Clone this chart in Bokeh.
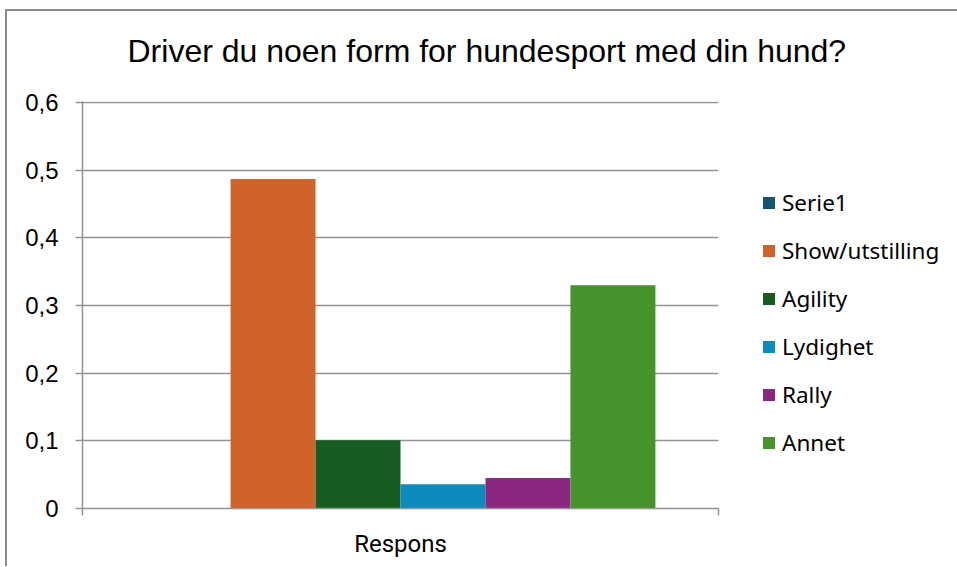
from bokeh.plotting import figure
from bokeh.models import (ColumnDataSource, FactorRange, Range1d, LinearAxis, FixedTicker,
                          CustomJSTickFormatter, Legend, LegendItem)
from bokeh.transform import dodge
from bokeh.embed import file_html
from bokeh.resources import INLINE

# ---------------- data ----------------
categories = ["Respons"]
series = ["Serie1", "Show/utstilling", "Agility", "Lydighet", "Rally", "Annet"]
values = [0.0, 0.487, 0.101, 0.036, 0.045, 0.330]
y_ticks = [0, 0.1, 0.2, 0.3, 0.4, 0.5, 0.6]
title_text = "Driver du noen form for hundesport med din hund?"

# ---------------- style ----------------
colors = ["#135470", "#CF632B", "#175D21", "#0E8BBE", "#8C2780", "#45932A"]
GRAY = "#939393"

p = figure(frame_width=636, frame_height=407,
           x_range=FactorRange(*categories, range_padding=0),
           y_range=Range1d(0, 0.6015),
           output_backend="svg", toolbar_location=None,
           x_axis_type=None, title=title_text,
           min_border_left=82, min_border_right=0,
           min_border_top=101, min_border_bottom=58)
# chart-area frame line (top and left edges) drawn behind the transparent canvas
p.styles = {"box-shadow": "inset 5px 9px 0 0 #ffffff, inset 7px 11px 0 0 #8c8c8c"}
p.outline_line_color = None
p.background_fill_color = "white"
p.border_fill_alpha = 0

p.title.align = "left"
p.title.vertical_align = "top"
p.title.text_font = "Liberation Sans"
p.title.text_font_size = "32px"
p.title.text_font_style = "normal"
p.title.text_color = "#000000"
p.title.standoff = 62
p.title.offset = 45

# data source
data = {"cat": categories}
for i, v in enumerate(values):
    data[f"s{i}"] = [v]
src = ColumnDataSource(data)

bar_w = 0.1336
n = len(series)
items = []
for i, name in enumerate(series):
    off = (i - (n - 1) / 2) * bar_w
    r = p.vbar(x=dodge("cat", off, range=p.x_range), top=f"s{i}", width=bar_w,
               source=src, fill_color=colors[i], line_color=None)
    items.append(LegendItem(label=name, renderers=[r]))

# y axis
yt = FixedTicker(ticks=y_ticks)
p.yaxis.ticker = yt
p.ygrid.ticker = yt
p.yaxis.formatter = CustomJSTickFormatter(
    code="return tick == 0 ? '0' : tick.toFixed(1).replace('.', ',');")
p.yaxis.major_label_text_font = "Liberation Sans"
p.yaxis.major_label_text_font_size = "24px"
p.yaxis.major_label_text_color = "#000000"
p.yaxis.axis_line_color = GRAY
p.yaxis.axis_line_width = 1.5
p.yaxis.major_tick_line_color = GRAY
p.yaxis.major_tick_line_width = 1.5
p.yaxis.major_tick_out = 7
p.yaxis.major_tick_in = 0
p.yaxis.minor_tick_line_color = None
p.yaxis.major_label_standoff = 17

p.xgrid.grid_line_color = None
p.ygrid.grid_line_color = GRAY
p.ygrid.grid_line_width = 1.5

# x axis (category label at the centre, end ticks at the boundaries)
xa = LinearAxis(ticker=FixedTicker(ticks=[0.5], minor_ticks=[0, 1]),
                major_label_overrides={0.5: categories[0]})
xa.axis_line_color = GRAY
xa.axis_line_width = 1.5
xa.major_tick_line_color = None
xa.major_tick_out = 0
xa.major_tick_in = 0
xa.minor_tick_line_color = GRAY
xa.minor_tick_line_width = 1.5
xa.minor_tick_out = 7
xa.minor_tick_in = 0
xa.major_label_text_font = "Roboto"
xa.major_label_text_font_size = "24px"
xa.major_label_text_color = "#000000"
xa.major_label_standoff = 14
p.add_layout(xa, "below")

legend = Legend(items=items, location=(43, 50), orientation="vertical",
                padding=0, margin=0, border_line_color=None,
                background_fill_alpha=0, glyph_width=15, glyph_height=15,
                label_standoff=6, spacing=17, label_height=30,
                label_text_font="Noto Sans", label_text_font_size="22.5px",
                label_text_color="#000000")
p.add_layout(legend, "right")

open("out.html", "w").write(file_html(p, INLINE))
